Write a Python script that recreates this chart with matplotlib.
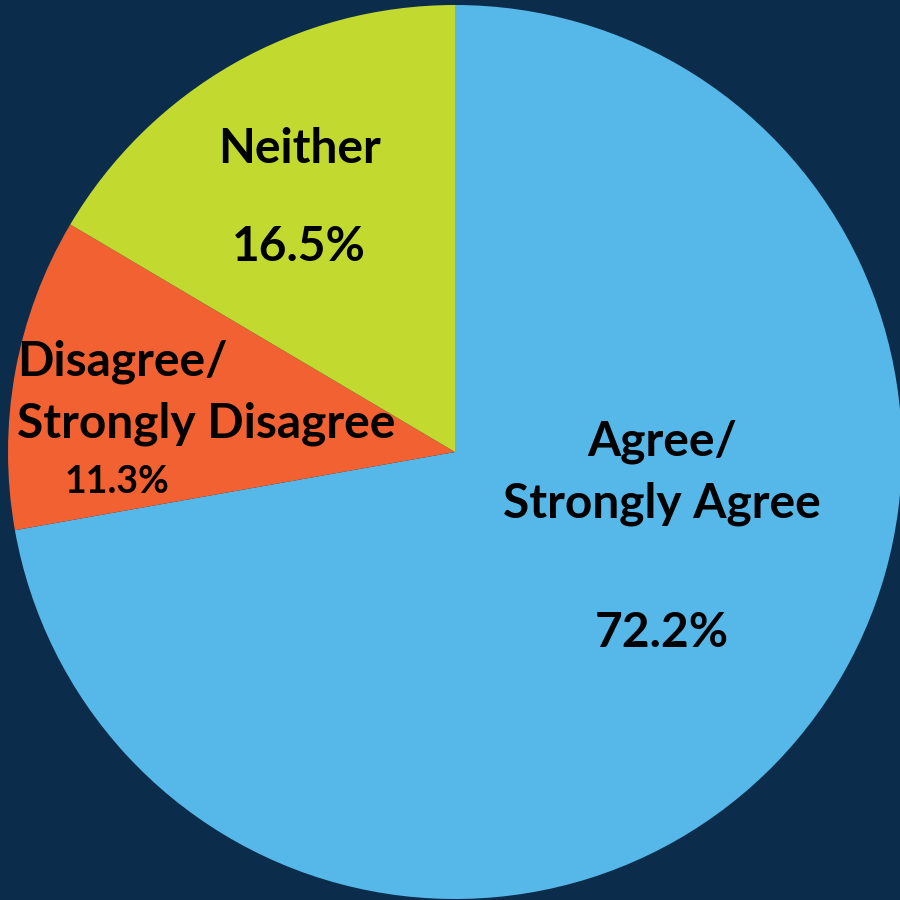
import matplotlib.pyplot as plt

labels = ['Agree/\nStrongly Agree', 'Disagree/\nStrongly Disagree', 'Neither']
values = [72.2, 11.3, 16.5]
colors = ['#55b8e9', '#f26131', '#c2d92f']
bg = '#0b2c4a'

plt.rcParams['font.family'] = ['Lato', 'DejaVu Sans']

fig = plt.figure(figsize=(9, 9), dpi=100, facecolor=bg)
ax = fig.add_axes([0, 0, 1, 1])
ax.set_facecolor(bg)

# pie centre at px (455, 452), radius 447 px
R = 447.0
ax.pie(values, colors=colors, startangle=90, counterclock=False,
       radius=1, center=(0, 0), wedgeprops=dict(linewidth=0))
ax.set_xlim(-455 / R, 445 / R)
ax.set_ylim(-448 / R, 452 / R)
ax.set_aspect('auto')
ax.axis('off')


def px(x, y):
    return x / 900, 1 - y / 900


big = 34.5
small = 27
kw = dict(fontweight='bold', color='black', transform=fig.transFigure, va='baseline')

# Agree
fig.text(*px(662, 455), 'Agree/', ha='center', fontsize=big, **kw)
fig.text(*px(662, 518), 'Strongly Agree', ha='center', fontsize=big, **kw)
fig.text(*px(662, 647), f'{values[0]}%', ha='center', fontsize=big, **kw)

# Disagree
fig.text(*px(17, 375), 'Disagree/', ha='left', fontsize=big, **kw)
fig.text(*px(17, 438), 'Strongly Disagree', ha='left', fontsize=big, **kw)
fig.text(*px(117, 493), f'{values[1]}%', ha='center', fontsize=small, **kw)

# Neither
fig.text(*px(299, 163), labels[2], ha='center', fontsize=big, **kw)
fig.text(*px(299, 261), f'{values[2]}%', ha='center', fontsize=big, **kw)

fig.savefig('out.png', dpi=100, facecolor=bg)
